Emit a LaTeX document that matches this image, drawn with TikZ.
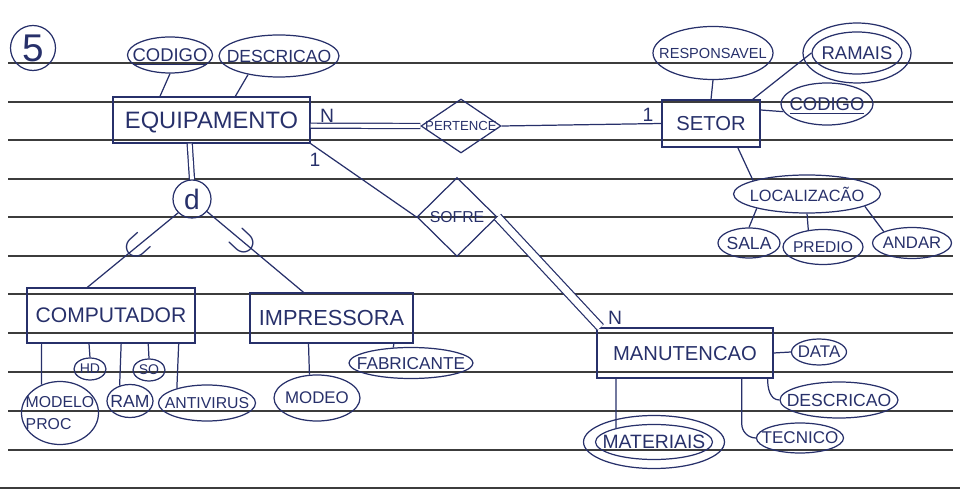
\documentclass[tikz,border=0pt]{standalone}
\usepackage{fontspec}
\setmainfont{Liberation Sans}
\usetikzlibrary{shapes.geometric,calc}
\definecolor{inkc}{HTML}{27306A}
\definecolor{rulec}{HTML}{3C3C3C}
\newcommand\fz[1]{\fontsize{#1}{#1}\selectfont}
\newcommand\zt[1]{\makebox[0pt]{\raisebox{-.5\height}[0pt][0pt]{#1}}}
\begin{document}
\begin{tikzpicture}[x=0.02cm,y=-0.02cm,
  ink/.style={draw=inkc, line width=0.7pt},
  attr/.style 2 args={ellipse, ink, text=inkc, inner sep=0pt, minimum width=#1*0.02cm, minimum height=#2*0.02cm},
  ent/.style 2 args={rectangle, ink, text=inkc, inner sep=0pt, minimum width=#1*0.02cm, minimum height=#2*0.02cm},
  relbox/.style 2 args={diamond, ink, text=inkc, inner sep=0pt, aspect=1, minimum width=#1*0.02cm, minimum height=#2*0.02cm},
  lbl/.style={text=inkc, inner sep=0pt},
  dbl/.style={ink, double=white, double distance=#1},
  ruled/.style={draw=rulec, line width=0.8pt}]
\useasboundingbox (0,0) rectangle (960,489);
% paper rules
\foreach \yy in {63,102,140,179,217,256,294,333,372,411,450}
  \draw[ruled] (8,\yy) -- (953,\yy);
\draw[ruled, line width=1.3pt] (0,488) -- (960,488);

% exercise number
\node[circle, ink, text=inkc, minimum size=0.9cm, inner sep=0pt] (five) at (33,48) {\zt{\fz{22}5}};

% EQUIPAMENTO
\node[ent={197}{46}] (eq) at (211.5,120) {\zt{\fz{13.5}EQUIPAMENTO}};
\node[attr={85}{36}] (cod1) at (170,55) {\zt{\fz{10.5}\underline{CODIGO}}};
\node[attr={120}{42}] (desc1) at (279,56) {\zt{\fz{10}DESCRICAO}};

% PERTENCE / SETOR
\node[relbox={80}{54}] (pert) at (461,126) {\zt{\fz{7.5}PERTENCE}};
\node[ent={98}{47}] (setor) at (711,123.5) {\zt{\fz{11.5}SETOR}};
\node[attr={120}{53}] (resp) at (713,53) {\zt{\fz{8.3}RESPONSAVEL}};
\node[attr={90}{42}] (ram) at (857,53) {\zt{\fz{10.5}RAMAIS}};
\draw[ink] (ram.center) ellipse[x radius=1.08cm, y radius=0.6cm];
\node[attr={92}{42}] (cod2) at (827,104) {\zt{\fz{10.5}\underline{CODIGO}}};
\node[attr={147}{38}] (loc) at (807,194) {\zt{\fz{9.3}LOCALIZACÃO}};
\node[attr={62}{30}] (sala) at (749,243) {\zt{\fz{10}SALA}};
\node[attr={80}{35}] (pred) at (823,247) {\zt{\fz{8.9}PREDIO}};
\node[attr={79}{31}] (andar) at (912,243) {\zt{\fz{9.5}ANDAR}};

% specialization
\node[circle, ink, text=inkc, minimum size=0.76cm, inner sep=0pt] (d) at (192,199) {\zt{\fz{16}d}};
\node[ent={168}{55}] (comp) at (111,315.5) {\zt{\fz{12}COMPUTADOR}};
\node[ent={163}{50}] (imp) at (331.5,318) {\zt{\fz{12.4}IMPRESSORA}};
\node[attr={32}{22}] (hd) at (90,369) {\zt{\fz{8}HD}};
\node[attr={32}{22}] (so) at (149,370) {\zt{\fz{8}SO}};
\node[attr={77}{63}] (mp) at (60,413) {\zt{\fz{9}\shortstack[l]{MODELO\\[3pt]PROC}}};
\node[attr={46}{33}] (ramc) at (130,401) {\zt{\fz{10}RAM}};
\node[attr={97}{36}] (anti) at (207,403) {\zt{\fz{9}ANTIVIRUS}};
\node[attr={86}{46}] (modeo) at (317,398) {\zt{\fz{9.6}MODEO}};
\node[attr={124}{31}] (fab) at (411,363) {\zt{\fz{9.8}FABRICANTE}};

% SOFRE / MANUTENCAO
\node[relbox={80}{79}] (sofre) at (457,217) {\zt{\fz{9}SOFRE}};
\node[ent={176}{50}] (manut) at (685,353) {\zt{\fz{11.5}MANUTENCAO}};
\node[attr={55}{26}] (data) at (819,352) {\zt{\fz{9.6}DATA}};
\node[attr={118}{36}] (desc2) at (839,400) {\zt{\fz{10}DESCRICAO}};
\node[attr={87}{30}] (tec) at (800,438) {\zt{\fz{9.7}TECNICO}};
\node[attr={117}{35}] (mat) at (654,442) {\zt{\fz{11}MATERIAIS}};
\draw[ink] (mat.center) ellipse[x radius=1.41cm, y radius=0.53cm];

% cardinalities
\node[lbl] (n1) at (327,116) {\fz{11}N};
\node[lbl] (one1) at (315,160) {\fz{11}1};
\node[lbl] (one2) at (648,115) {\fz{11}1};
\node[lbl] (n2) at (615,318) {\fz{11}N};

% connectors: EQUIPAMENTO
\draw[ink] (cod1.south) -- ($(eq.north west)!0.24!(eq.north east)$);
\draw[ink] (desc1.211) -- ($(eq.north west)!0.62!(eq.north east)$);
\draw[dbl=2.2pt] ($(eq.north east)!0.62!(eq.south east)$) -- (pert.west);
\draw[ink] (pert.east) -- (setor.west);
\draw[ink] (eq.south east) -- (sofre.west);
\draw[dbl=4pt] (sofre.east) -- ($(manut.north west)+(4,0)$);
\draw[dbl=2.2pt] ($(eq.south west)!0.39!(eq.south east)$) -- (d.north);
\draw[ink] (d.225) -- node[pos=0.45, lbl, rotate=42, scale=2] (sub1) {$\subset$} ($(comp.north west)!0.36!(comp.north east)$);
\draw[ink] (d.-40) -- node[pos=0.38, lbl, rotate=137, scale=2] (sub2) {$\subset$} ($(imp.north west)!0.33!(imp.north east)$);

% connectors: SETOR
\draw[ink] (resp.south) -- (setor.north);
\draw[ink] ($(setor.north west)!0.92!(setor.north east)$) -- (ram.west);
\draw[ink] ($(setor.north east)!0.22!(setor.south east)$) -- (cod2.190);
\draw[ink] ($(setor.south west)!0.77!(setor.south east)$) -- (loc.166);
\draw[ink] (loc.196) -- (sala.north);
\draw[ink] (loc.270) -- (pred.131);
\draw[ink] (loc.-12) -- (andar.158);

% connectors: COMPUTADOR / IMPRESSORA
\draw[ink] ($(comp.south west)!0.09!(comp.south east)$) -- (mp.123);
\draw[ink] ($(comp.south west)!0.37!(comp.south east)$) -- (hd.north);
\draw[ink] ($(comp.south west)!0.56!(comp.south east)$) -- (ramc.124);
\draw[ink] ($(comp.south west)!0.72!(comp.south east)$) -- (so.north);
\draw[ink] ($(comp.south west)!0.90!(comp.south east)$) -- (anti.154);
\draw[ink] ($(imp.south west)!0.36!(imp.south east)$) -- (modeo.108);
\draw[ink] ($(imp.south west)!0.88!(imp.south east)$) -- (fab.139);

% connectors: MANUTENCAO
\draw[ink] (manut.east) -- (data.west);
\draw[ink] ($(manut.south west)!0.966!(manut.south east)$) to[out=-90, in=180] (desc2.west);
\draw[ink] ($(manut.south west)!0.82!(manut.south east)$) -- ++(0,45) to[out=-90, in=180] (tec.west);
\draw[ink] ($(manut.south west)!0.11!(manut.south east)$) -- (mat.160);
\end{tikzpicture}
\end{document}
